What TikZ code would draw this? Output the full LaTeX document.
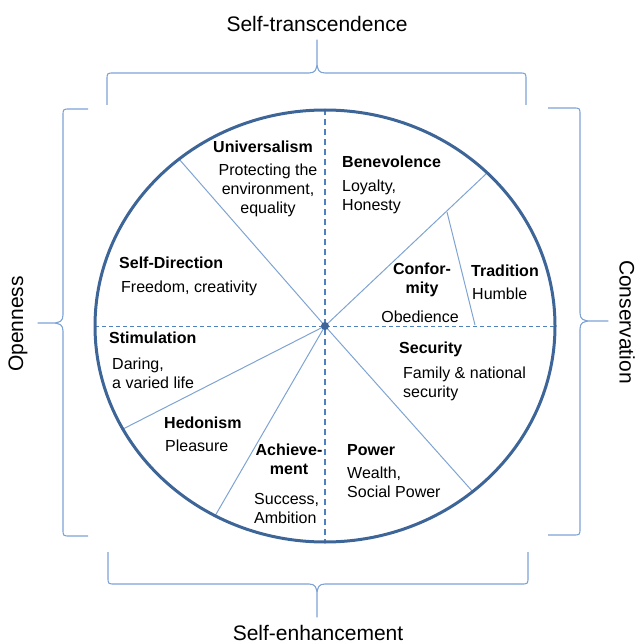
\documentclass[tikz,border=0pt]{standalone}
\usepackage{fontspec}
\setmainfont{Liberation Sans}
\definecolor{rimblue}{HTML}{3D6597}
\definecolor{spokeblue}{HTML}{7FA3D3}
\definecolor{axisblue}{HTML}{4F81BD}
\definecolor{braceblue}{HTML}{7DA2D6}
\tikzset{
  rim/.style={draw=rimblue, line width=3pt},
  spoke/.style={draw=spokeblue, line width=1pt},
  axisv/.style={draw=axisblue, line width=1.6pt, dash pattern=on 6pt off 4pt},
  axish/.style={draw=axisblue, line width=1pt, dash pattern=on 4pt off 3pt},
  curly/.style={draw=braceblue, line width=1.1pt, line join=round},
  head/.style={font=\fontsize{16}{19}\selectfont\bfseries, inner sep=0pt},
  desc/.style={font=\fontsize{16}{19}\selectfont, inner sep=0pt, align=left},
  side/.style={font=\fontsize{21}{25}\selectfont, inner sep=0pt}
}
\begin{document}
\begin{tikzpicture}[x=1pt, y=-1pt]
    \useasboundingbox (0,0) rectangle (638,644);
    \coordinate (c) at (325,326);
    \foreach \p in {(179,159),(487,173),(123,429),(215,516),(473,492)}{
      \draw[spoke] (c) -- \p;
    }
    \coordinate (trtop) at (447,212);
    \coordinate (trbot) at (475,325);
    \draw[spoke] (trtop) -- (trbot);
    \draw[axish] (95,326) -- (555,326);
    \draw[axisv] (325,109) -- (325,542);
    \draw[rim] (c) ellipse [x radius=230pt, y radius=216pt];
    \fill[rimblue] (c) circle [radius=4pt];

    \draw[curly] (107,105) -- (107,80) .. controls (107,73) .. (114,73) -- (309,73)
      .. controls (315,73) and (317,70) .. (317,62) -- (317,40) -- (317,62)
      .. controls (317,70) and (319,73) .. (325,73) -- (519,73)
      .. controls (526,73) .. (526,80) -- (526,105);
    \draw[curly] (108,552) -- (108,577) .. controls (108,584) .. (115,584) -- (309,584)
      .. controls (315,584) and (317,587) .. (317,595) -- (317,617) -- (317,595)
      .. controls (317,587) and (319,584) .. (325,584) -- (521,584)
      .. controls (528,584) .. (528,577) -- (528,552);
    \draw[curly] (88,109) -- (70,109) .. controls (63,109) .. (63,116) -- (63,315)
      .. controls (63,321) and (60,323) .. (52,323) -- (38,323) -- (52,323)
      .. controls (60,323) and (63,325) .. (63,331) -- (63,529)
      .. controls (63,536) .. (70,536) -- (88,536);
    \draw[curly] (548,108) -- (573,108) .. controls (580,108) .. (580,115) -- (580,313)
      .. controls (580,319) and (583,321) .. (591,321) -- (608,321) -- (591,321)
      .. controls (583,321) and (580,323) .. (580,329) -- (580,528)
      .. controls (580,535) .. (573,535) -- (548,535);

    \node[side] (trans) at (317,24) {Self-transcendence};
    \node[side] (enh) at (318,633) {Self-enhancement};
    \node[side, rotate=90] (open) at (18,324) {Openness};
    \node[side, rotate=-90] (cons) at (627,322) {Conservation};

    \node[head] (univ) at (263,147) {Universalism};
    \node[desc, align=center] (univd) at (268,190) {Protecting the\\environment,\\equality};
    \node[head, anchor=west] (bene) at (342,162) {Benevolence};
    \node[desc, anchor=west] (bened) at (342,197) {Loyalty,\\Honesty};
    \node[head, anchor=west] (selfd) at (119,263) {Self-Direction};
    \node[desc, anchor=west] (selfdd) at (121,288) {Freedom, creativity};
    \node[head, align=center] (conf) at (422,280) {Confor-\\mity};
    \node[desc] (confd) at (420,317) {Obedience};
    \node[head, anchor=west] (trad) at (471,271) {Tradition};
    \node[desc, anchor=west] (tradd) at (472,294) {Humble};
    \node[head, anchor=west] (stim) at (109,338) {Stimulation};
    \node[desc, anchor=west] (stimd) at (112,373) {Daring,\\a varied life};
    \node[head, anchor=west] (secu) at (399,349) {Security};
    \node[desc, anchor=west] (secud) at (403,384) {Family \& national\\security};
    \node[head, anchor=west] (hedo) at (164,423) {Hedonism};
    \node[desc, anchor=west] (hedod) at (165,446) {Pleasure};
    \node[head, align=center] (achi) at (289,459) {Achieve-\\ment};
    \node[desc, anchor=west] (achid) at (254,508) {Success,\\Ambition};
    \node[head, anchor=west] (powe) at (347,450) {Power};
    \node[desc, anchor=west] (powed) at (347,482) {Wealth,\\Social Power};
\end{tikzpicture}
\end{document}
